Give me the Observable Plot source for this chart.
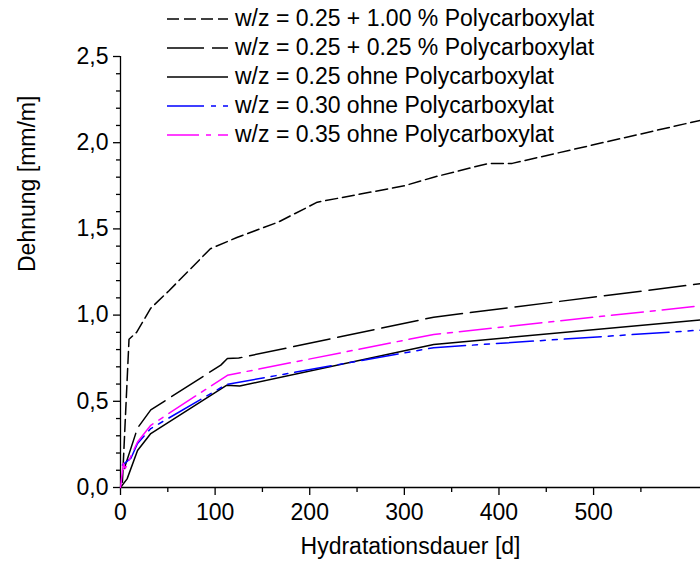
<!DOCTYPE html>
<html><head><meta charset="utf-8">
<script src="https://cdn.jsdelivr.net/npm/d3@7"></script>
<script src="https://cdn.jsdelivr.net/npm/@observablehq/plot@0.6"></script>
<style>
body{margin:0;background:#fff;}
#wrap{position:relative;width:700px;height:570px;font-family:"Liberation Sans",Arial,sans-serif;}
#legend{position:absolute;left:165px;top:4px;}
.row{display:flex;align-items:center;height:29px;font-size:23px;color:#000;white-space:nowrap;}
.row svg{margin-right:7px;display:block;}
</style></head><body><div id="wrap"><div id="legend"></div></div>
<script>
// ---- data ----
const seriesNames = [
  "w/z = 0.25 + 1.00 % Polycarboxylat",
  "w/z = 0.25 + 0.25 % Polycarboxylat",
  "w/z = 0.25 ohne Polycarboxylat",
  "w/z = 0.30 ohne Polycarboxylat",
  "w/z = 0.35 ohne Polycarboxylat"
];
const days1 = [2, 9, 17, 32, 51, 95, 123, 167, 208, 300, 331, 389, 414, 613];
const vals1 = [0.03, 0.86, 0.90, 1.04, 1.14, 1.385, 1.45, 1.54, 1.655, 1.75, 1.80, 1.88, 1.88, 2.13];
const days2 = [4, 18, 32, 106, 113, 125, 331, 613];
const vals2 = [0.11, 0.345, 0.45, 0.71, 0.748, 0.751, 0.988, 1.182];
const days3 = [0, 7, 18, 32, 112, 126, 331, 613];
const vals3 = [0, 0.05, 0.215, 0.313, 0.593, 0.589, 0.83, 0.972];
const days4 = [2, 11, 18, 32, 112, 331, 613];
const vals4 = [0.13, 0.17, 0.255, 0.342, 0.598, 0.811, 0.913];
const days5 = [0, 3, 5, 18, 32, 113, 331, 613];
const vals5 = [0, 0.14, 0.11, 0.264, 0.361, 0.651, 0.888, 1.054];
const xMajor = [0, 100, 200, 300, 400, 500];
const xMinor = [50, 150, 250, 350, 450, 550];
const yMajor = [0, 0.5, 1.0, 1.5, 2.0, 2.5];
const yMinor = [0.1,0.2,0.3,0.4,0.6,0.7,0.8,0.9,1.1,1.2,1.3,1.4,1.6,1.7,1.8,1.9,2.1,2.2,2.3,2.4];
const xTitle = "Hydratationsdauer [d]";
const yTitle = "Dehnung [mm/m]";

// ---- styles ----
const styles = [
  {stroke: "#000", dash: "12,5"},
  {stroke: "#000", dash: "37,8"},
  {stroke: "#000", dash: null},
  {stroke: "#0000ff", dash: "37,7,5,7,5,7"},
  {stroke: "#ff00ff", dash: "32,7,5,7"}
];
const dayArrs = [days1, days2, days3, days4, days5];
const valArrs = [vals1, vals2, vals3, vals4, vals5];
const series = dayArrs.map((ds, i) => ds.map((d, j) => ({day: d, value: valArrs[i][j]})));

const fmt = d => d3.format(".1f")(d).replace(".", ",");
const xMax = 613;

const lineMarks = series.map((s, i) => Plot.line(s, {
  x: "day", y: "value", stroke: styles[i].stroke, strokeWidth: 1.5,
  strokeDasharray: styles[i].dash || undefined
}));

const chart = Plot.plot({
  width: 700, height: 570,
  marginLeft: 120, marginRight: 0, marginTop: 56, marginBottom: 83,
  style: {fontFamily: "Liberation Sans, Arial, sans-serif", fontSize: "23px", color: "black", background: "white", overflow: "visible"},
  x: {domain: [0, xMax]},
  y: {domain: [0, 2.5]},
  marks: [
    Plot.axisX({ticks: xMinor, tickSize: 5, tickFormat: () => "", label: null, strokeWidth: 1.3}),
    Plot.axisX({ticks: xMajor, tickSize: 8, tickPadding: 8, tickFormat: d => String(d), label: null, fontSize: 23, strokeWidth: 1.3}),
    Plot.axisY({ticks: yMinor, tickSize: 4, tickFormat: () => "", label: null, strokeWidth: 1.3}),
    Plot.axisY({ticks: yMajor, tickSize: 7, tickPadding: 5, tickFormat: fmt, label: null, fontSize: 23, strokeWidth: 1.3}),
    Plot.ruleX([0], {strokeWidth: 1.3}),
    Plot.ruleY([0], {strokeWidth: 1.3}),
    ...lineMarks,
    Plot.text([xTitle], {text: d => d, frameAnchor: "bottom", dy: 66, fontSize: 23}),
    Plot.text([yTitle], {text: d => d, frameAnchor: "left", dx: -93, rotate: -90, fontSize: 23})
  ]
});
const wrap = document.getElementById("wrap");
wrap.insertBefore(chart, wrap.firstChild);

// legend
const legend = document.getElementById("legend");
seriesNames.forEach((name, i) => {
  const row = document.createElement("div");
  row.className = "row";
  const st = styles[i];
  row.innerHTML = `<svg width="63" height="10"><line x1="2" y1="5" x2="63" y2="5" stroke="${st.stroke}" stroke-width="1.5" ${st.dash ? `stroke-dasharray="${st.dash}"` : ""}/></svg><span>${name}</span>`;
  legend.appendChild(row);
});
</script>
</body></html>
